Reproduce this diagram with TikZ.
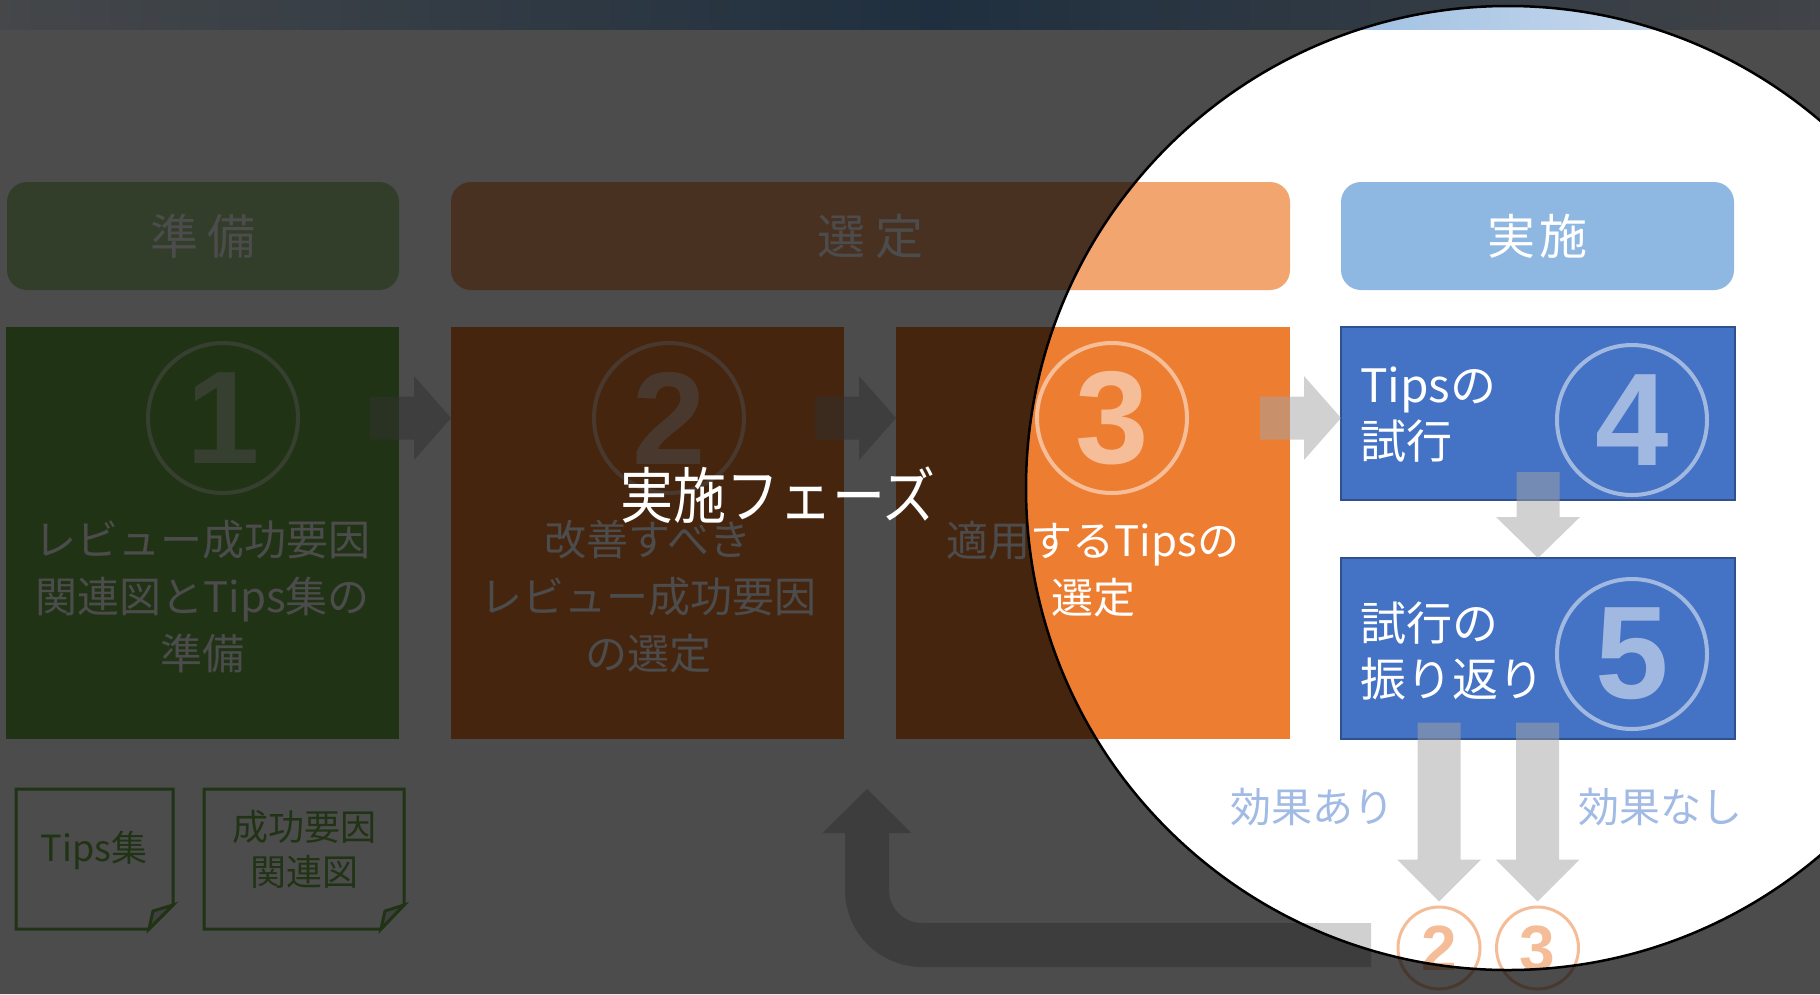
\documentclass[tikz,border=0pt]{standalone}
\usepackage{fontspec}
\setmainfont{Noto Sans CJK JP}
\newfontfamily\digitfont{Liberation Sans}
\usetikzlibrary{calc}
\definecolor{grn}{HTML}{70AD47}
\definecolor{grnl}{HTML}{A9D18E}
\definecolor{org}{HTML}{ED7D31}
\definecolor{orgl}{HTML}{F2A56F}
\definecolor{blu}{HTML}{4472C4}
\definecolor{blud}{HTML}{2F528F}
\definecolor{blul}{HTML}{8EB8E1}
\definecolor{arrgray}{HTML}{A5A5A5}
\definecolor{fbgray}{HTML}{D0D0D0}
\definecolor{kouka}{HTML}{A2BBE5}
\definecolor{bannermid}{HTML}{6BA0D5}
\definecolor{bannerleft}{HTML}{E8F0F8}
\definecolor{bannerright}{HTML}{DCE6F2}
\definecolor{foldgray}{HTML}{D9D9D9}
\newcommand{\rblockarrow}[1]{\fill[garrow] (#1) -- ++(-37,-42) -- ++(0,20.5) -- ++(-44,0) -- ++(0,43) -- ++(44,0) -- ++(0,20.5) -- cycle;}
\newcommand{\dblockarrow}[3]{\fill[garrow] (#1) -- ++(-42,-#2) -- ++(20.5,0) -- ++(0,-#3) -- ++(43,0) -- ++(0,#3) -- ++(20.5,0) -- cycle;}
\begin{document}
\begin{tikzpicture}[x=1pt,y=-1pt,
  pill/.style={rounded corners=20pt, minimum height=108pt, inner sep=0pt, outer sep=0pt, text=white, font=\fontsize{48}{52}\selectfont},
  bigbox/.style={minimum height=412pt, minimum width=393pt, inner sep=0pt, outer sep=0pt},
  bluebox/.style={fill=blu, draw=blud, line width=2.5pt, minimum width=394pt, inner sep=0pt, outer sep=0pt},
  boxtext/.style={text=white, align=center, inner sep=0pt, font=\fontsize{42}{57}\selectfont},
  bluetext/.style={text=white, align=left, inner sep=0pt, anchor=west, font=\fontsize{46}{56}\selectfont},
  cnum/.style={circle, draw=white, draw opacity=0.5, text=white, text opacity=0.5, line width=4pt, minimum size=150pt, inner sep=0pt, font=\digitfont\bfseries\fontsize{132}{132}\selectfont},
  snum/.style={circle, draw=org, draw opacity=0.5, text=org, text opacity=0.5, line width=3pt, minimum size=82pt, inner sep=0pt, font=\digitfont\bfseries\fontsize{64}{64}\selectfont},
  garrow/.style={fill=arrgray, fill opacity=0.5},
  notetext/.style={text=grn, align=center, inner sep=0pt, font=\fontsize{36}{45}\selectfont},
  koukatext/.style={text=kouka, inner sep=0pt, font=\fontsize{41}{45}\selectfont},
  noteline/.style={draw=grn, line width=3pt, fill=white, line join=miter}
]
\useasboundingbox (0,0) rectangle (1820,994);
\fill[white] (0,0) rectangle (1820,994);
% top banner (gradient built from thin strips)
\foreach \i in {0,...,92} {
  \pgfmathsetmacro{\p}{100*\i/93}
  \fill[bannermid!\p!bannerleft] (\i*10,0) rectangle (\i*10+10.6,30);
}
\foreach \i in {93,...,181} {
  \pgfmathsetmacro{\p}{100*(\i-93)/89}
  \fill[bannerright!\p!bannermid] (\i*10,0) rectangle (\i*10+10.6,30);
}

% phase pills
\node[pill, fill=grnl, minimum width=392pt] (p1) at (203,236) {準\hspace{10pt}備};
\node[pill, fill=orgl, minimum width=839pt] (p2) at (870.5,236) {選\hspace{10pt}定};
\node[pill, fill=blul, minimum width=393pt] (p3) at (1537.5,236) {実\hspace{4pt}施};

% main boxes
\node[bigbox, fill=grn] (b1) at (202.5,533) {};
\node[bigbox, fill=org] (b2) at (647.5,533) {};
\node[bigbox, fill=org, minimum width=394pt] (b3) at (1093,533) {};
\node[bluebox, minimum height=173pt] (b4) at (1538,413.5) {};
\node[bluebox, minimum height=181pt] (b5) at (1538,648.5) {};

% circled numbers
\node[cnum] (c1) at (223,418) {1};
\node[cnum] (c2) at (669,418) {2};
\node[cnum] (c3) at (1112,418) {3};
\node[cnum] (c4) at (1632,420) {4};
\node[cnum] (c5) at (1632,654) {5};

% box texts
\node[boxtext] (t1) at (202.5,597) {レビュー成功要因\\関連図とTips集の\\準備};
\node[boxtext] (t2) at (648,597) {改善すべき\\レビュー成功要因\\の選定};
\node[boxtext] (t3) at (1093,569) {適用するTipsの\\選定};
\node[bluetext] (t4) at (1360,415) {Tipsの\\試行};
\node[bluetext] (t5) at (1360,651) {試行の\\振り返り};

% small circled numbers
\node[snum] (s2) at (1439,948) {2};
\node[snum] (s3) at (1537.5,948) {3};

% block arrows
\rblockarrow{b2.west |- c1.center}
\rblockarrow{b3.west |- c1.center}
\rblockarrow{b4.west |- c1.center}
\dblockarrow{b5.north}{41}{45}
\dblockarrow{$(s2.north)+(0,-4)$}{42}{137}
\dblockarrow{$(s3.north)+(0,-4)$}{42}{137}

% feedback arrow
\coordinate (fbs) at (1371,945);
\coordinate (fbt) at (867,789);
\draw[fbgray, line width=44pt, rounded corners=55pt] (fbs) -- (fbs -| fbt) -- ($(fbt)+(0,44)$);
\fill[fbgray] (fbt) -- ++(44.5,44) -- ++(-89,0) -- cycle;

% effect labels
\node[koukatext] (k1) at (1312,807) {効果あり};
\node[koukatext] (k2) at (1660,807) {効果なし};

% notes
\draw[noteline] (16,789) -- (173,789) -- (173,905) -- (149,929) -- (16,929) -- cycle;
\filldraw[draw=grn, fill=foldgray, line width=3pt, line join=miter] (173,905) -- (153,911) -- (149,929) -- cycle;
\node[notetext] (n1) at (94,850) {Tips集};
\draw[noteline] (204,789) -- (404,789) -- (404,905) -- (381,929) -- (204,929) -- cycle;
\filldraw[draw=grn, fill=foldgray, line width=3pt, line join=miter] (404,905) -- (385,911) -- (381,929) -- cycle;
\node[notetext] (n2) at (304,849) {成功要因\\関連図};

% spotlight overlay
\fill[black, opacity=0.7, even odd rule] (0,0) rectangle (1820,994) (1508,488) circle[radius=482pt];
\draw[black, line width=2.5pt] (1508,488) circle[radius=482pt];

\node[text=white, inner sep=0pt, font=\fontsize{53}{60}\selectfont] (phase) at (778,495) {\scalebox{1}[1.15]{実施フェーズ}};
\end{tikzpicture}
\end{document}
